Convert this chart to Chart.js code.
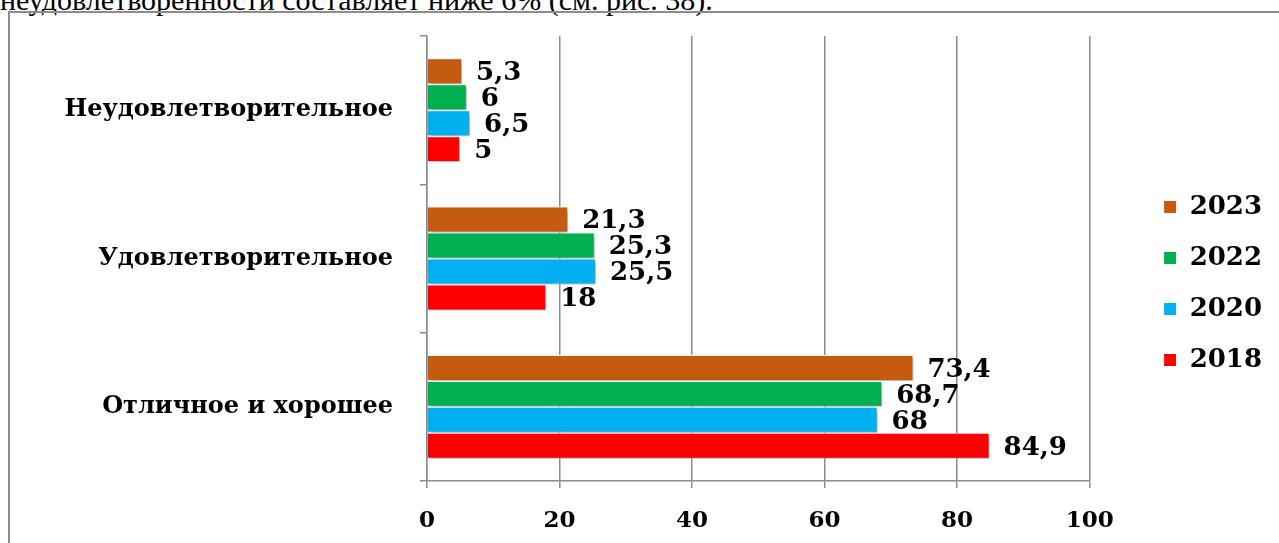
<!doctype html>
<html lang="ru">
<head>
  <meta charset="UTF-8">
  <title>Оценка удовлетворенности</title>
  <script src="https://cdn.jsdelivr.net/npm/chart.js"></script>
  <style>
    html, body { margin: 0; padding: 0; background: #fff; overflow: hidden; }
    body { width: 1279px; height: 543px; position: relative; }
    .line {
      position: absolute; left: 0px; top: -15px; white-space: nowrap;
      font: 30px/30px "Liberation Serif", "Times New Roman", serif; color: #000;
    }
    .frame {
      position: absolute; left: 8px; top: 11px; right: -10px; bottom: -10px;
      border-left: 2px solid #8c8c8c; border-top: 2px solid #8c8c8c;
    }
    .wrap { position: absolute; left: 10px; top: 13px; width: 1269px; height: 530px; }
  </style>
</head>
<body>
<div class="line">неудовлетворенности составляет ниже 6% (см. рис. 38).</div>
<div class="frame"></div>
<div class="wrap"><canvas id="chart" width="1269" height="530"></canvas></div>
<script>
  // данные с рисунка
  const categories = ['Неудовлетворительное', 'Удовлетворительное', 'Отличное и хорошее'];
  const years = ['2023', '2022', '2020', '2018'];
  const v2023 = [5.3, 21.3, 73.4];
  const v2022 = [6, 25.3, 68.7];
  const v2020 = [6.5, 25.5, 68];
  const v2018 = [5, 18, 84.9];
  const xTicks = [0, 20, 40, 60, 80, 100];

  const colors = ['#C55A11', '#00B050', '#00B0F0', '#FF0000'];
  const series = [v2023, v2022, v2020, v2018];
  const FONT = '"DejaVu Serif", serif';

  // подписи значений справа от столбцов
  const valueLabels = {
    id: 'valueLabels',
    afterDatasetsDraw(chart) {
      const ctx = chart.ctx;
      ctx.save();
      ctx.font = 'bold 26px ' + FONT;
      ctx.fillStyle = '#000';
      ctx.textBaseline = 'middle';
      ctx.textAlign = 'left';
      chart.data.datasets.forEach((ds, i) => {
        chart.getDatasetMeta(i).data.forEach((bar, j) => {
          const txt = String(ds.data[j]).replace('.', ',');
          ctx.fillText(txt, bar.x + 14, bar.y + 2);
        });
      });
      ctx.restore();
    }
  };

  // лёгкая тень у столбцов
  const barShadow = {
    id: 'barShadow',
    beforeDatasetDraw(chart) {
      const ctx = chart.ctx;
      ctx.save();
      ctx.shadowColor = 'rgba(0,0,0,0.35)';
      ctx.shadowBlur = 4;
      ctx.shadowOffsetX = 2;
      ctx.shadowOffsetY = 2;
    },
    afterDatasetDraw(chart) {
      chart.ctx.restore();
    }
  };

  const noVPad = s => { s.paddingTop = 0; s.paddingBottom = 0; };

  new Chart(document.getElementById('chart'), {
    type: 'bar',
    data: {
      labels: categories,
      datasets: years.map((y, i) => ({
        label: y,
        data: series[i],
        backgroundColor: colors[i],
        borderColor: '#ffffff',
        borderWidth: 1,
        categoryPercentage: 0.70,
        barPercentage: 1.0
      }))
    },
    options: {
      indexAxis: 'y',
      responsive: false,
      animation: false,
      layout: { padding: { top: 23, right: 7, bottom: 12, left: 0 } },
      scales: {
        x: {
          min: 0, max: 100,
          afterBuildTicks: s => { s.ticks = xTicks.map(v => ({ value: v })); },
          afterFit: s => { s.height = 50; },
          grid: { color: '#8c8c8c', lineWidth: 1.5, tickLength: 7 },
          border: { color: '#8c8c8c', width: 1.5 },
          ticks: { color: '#000', padding: 19, font: { family: FONT, size: 23, weight: 'bold' } }
        },
        y: {
          afterFit: s => { s.width = 417; noVPad(s); },
          grid: { drawOnChartArea: false, color: '#8c8c8c', lineWidth: 1.5, tickLength: 7 },
          border: { color: '#8c8c8c', width: 1.5 },
          ticks: { color: '#000', padding: 27, font: { family: FONT, size: 24, weight: 'bold' } }
        },
        gap: {
          type: 'category',
          position: 'right',
          afterFit: s => { s.width = 49; noVPad(s); },
          grid: { display: false },
          border: { display: false },
          ticks: { display: false }
        }
      },
      plugins: {
        tooltip: { enabled: false },
        legend: {
          position: 'right',
          labels: {
            boxWidth: 13, boxHeight: 13, padding: 25, color: '#000',
            font: { family: FONT, size: 26, weight: 'bold' }
          }
        }
      }
    },
    plugins: [barShadow, valueLabels]
  });
</script>
</body>
</html>
